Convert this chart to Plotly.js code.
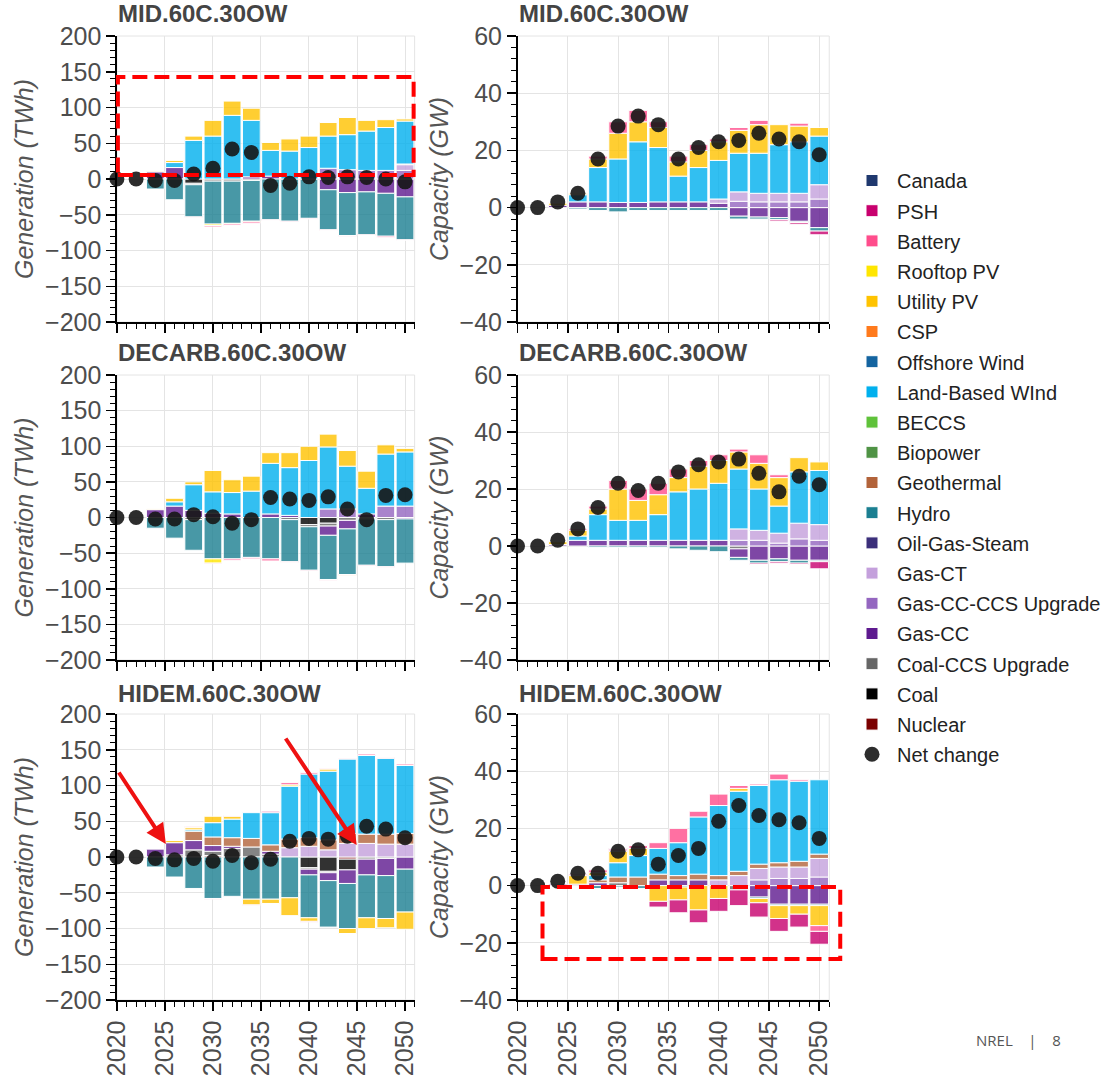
<!DOCTYPE html>
<html>
<head>
<meta charset="utf-8">
<script src="https://cdn.plot.ly/plotly-3.0.1.min.js"></script>
<style>
  html, body { margin: 0; padding: 0; background: #ffffff; }
  #chart { width: 1106px; height: 1080px; }
</style>
</head>
<body>
<div id="chart"></div>
<script>
// ---------------- categories ----------------
const barYears = [2024, 2026, 2028, 2030, 2032, 2034, 2036, 2038, 2040, 2042, 2044, 2046, 2048, 2050];
const dotYears = [2020, 2022, 2024, 2026, 2028, 2030, 2032, 2034, 2036, 2038, 2040, 2042, 2044, 2046, 2048, 2050];
const xTickVals = [2020, 2025, 2030, 2035, 2040, 2045, 2050];

// stacking order (first = closest to zero)
const techs = ['Nuclear', 'Coal', 'Coal-CCS Upgrade', 'Gas-CC', 'Gas-CC-CCS Upgrade', 'Gas-CT', 'Oil-Gas-Steam',
  'Hydro', 'Geothermal', 'Biopower', 'BECCS', 'Land-Based WInd', 'Offshore Wind', 'CSP',
  'Utility PV', 'Rooftop PV', 'Battery', 'PSH', 'Canada'];
const techColors = ['#7b0000', '#000000', '#666666', '#5e1a8f', '#9466c0', '#c4a0dc', '#3b2f7a',
  '#1b7f91', '#b2633a', '#4f9345', '#5fc23a', '#00b0ee', '#1464a0', '#ff7a1c',
  '#ffc300', '#ffe600', '#ff4d8c', '#c8006e', '#1f386e'];

const panelTitles = ['MID.60C.30OW', 'MID.60C.30OW', 'DECARB.60C.30OW', 'DECARB.60C.30OW', 'HIDEM.60C.30OW', 'HIDEM.60C.30OW'];
const genAxisTitle = 'Generation (TWh)';
const capAxisTitle = 'Capacity (GW)';
const netLabel = 'Net change';

// ---------------- MID generation (TWh) ----------------
const midGenCoal      = [0, 0, -6, 0, 0, 0, 0, 0, 0, 0, 0, 0, 0, 0];
const midGenCoalCCS   = [0, 0, -2, -3, -3, -2, 0, 0, 0, 0, 0, 0, 0, 0];
const midGenGasCC     = [10, 16, 0, 0, 0, 3, 4, 0, 0, -15, -19, -18, -20, -25];
const midGenGasCCS    = [0, 0, 0, 0, 0, 0, 0, 0, 0, 15, 13, 12, 12, 12];
const midGenGasCT     = [0, 0, 0, 0, 0, 0, 0, 0, 0, 0, 0, 0, 0, 8];
const midGenHydro     = [-14, -29, -45, -60, -59, -57, -57, -59, -55, -56, -60, -60, -60, -60];
const midGenGeo       = [0, 0, 0, 0, 0, 0, 0, 0, 0, 0, 0, 0, 0, 1];
const midGenWind      = [0, 7, 54, 60, 89, 79, 36, 39, 44, 45, 49, 55, 60, 60];
const midGenUPV       = [1, 3, 6, 22, 20, 17, 11, 17, 16, 19, 24, 15, 11, 3];
const midGenRPV       = [0, 0, 0, -2, -1, -1, 0, 0, 0, 0, 0, 0, 0, 0];
const midGenBattery   = [0, 0, -1, -2, -2, -2, -1, -1, -1, -1, -1, -1, -2, -1];
const midGenNet       = [0, 0, -2, -2, 7, 15, 42, 37, -9, -6, 3, 2, 3, 2, 0, -4];

// ---------------- MID capacity (GW) ----------------
const midCapGasCC     = [0.8, 2, 2, 1.8, 1.8, 2, 2, 2, 1.5, -3, -3.3, -3.5, -4.8, -7];
const midCapGasCCS    = [0, 0, 0, 0, 0, 0, 0, 0, 0, 2.2, 2, 2, 2, 3];
const midCapGasCT     = [0, 0, 0, 0, 0, 0, 0, 0, 1.5, 3.3, 3, 3, 3, 5];
const midCapHydro     = [0, -0.5, -1, -1.5, -1, -1, -1, -1, -1, -1, -0.7, -0.7, -0.4, -1.2];
const midCapWind      = [0, 2.5, 12, 15.2, 21.2, 19, 9, 12, 13.5, 13.5, 14, 17, 18, 17];
const midCapUPV       = [0.8, 0.5, 3, 9, 7, 7, 5, 6, 6.5, 8, 10, 7, 5.5, 3];
const midCapBattery   = [0.2, 0, 1, 4, 4, 2, 2, 2, 1, 1, 1.5, 0, 1, 0];
const midCapPSH       = [0, 0, 0, 0, 0, 0, 0, 0, 0, 0, 0, -0.5, -0.6, -1.3];
const midCapNet       = [0, 0, 2, 5, 17, 28.5, 32, 29, 17, 21, 23, 23.5, 26, 24, 23, 18.5];

// ---------------- DECARB generation (TWh) ----------------
const decGenCoal      = [0, 0, 0, 0, 0, 0, 0, 0, -10, -8, 0, 0, 0, 0];
const decGenCoalCCS   = [0, 0, -3, 0, 0, 0, 0, -3, -3, -4, -4, -2, -3, 0];
const decGenGasCC     = [11, 16, 10, 6, 5, 0, 5, 3, 0, -13, -12, 5, 0, -2];
const decGenGasCCS    = [0, 0, 0, 0, 0, 0, 0, 0, 0, 12, 12, 0, 16, 16];
const decGenHydro     = [-15, -29, -43, -58, -58, -56, -58, -59, -61, -62, -64, -65, -66, -62];
const decGenWind      = [0, 6, 36, 30, 30, 37, 71, 67, 80, 87, 60, 36, 73, 76];
const decGenCSP       = [0, 0, 0, 0, 0, 0, 0, 0, 0, 0, -1, 0, 0, 0];
const decGenUPV       = [1, 5, 4, 30, 18, 21, 15, 21, 20, 18, 22, 24, 13, 5];
const decGenRPV       = [0, 0, 0, -6, 0, 0, 0, 0, 0, 0, 0, 0, 0, 0];
const decGenBattery   = [0, 0, 0, -1, -2, -2, -3, -1, -1, -1, 0, -1, -1, 0];
const decGenNet       = [0, 0, -2, -2, 4, 1, -8, -3, 28, 26, 24, 29, 12, -3, 31, 32];

// ---------------- DECARB capacity (GW) ----------------
const decCapCoalCCS   = [0, 0, 0, 0, 0, 0, 0, 0, 0, -1, 0, 0, 0, 0];
const decCapGasCC     = [0.5, 2, 2, 2, 2, 2, 2, 2, 2, -3, -5, -4.5, -5, -5];
const decCapGasCCS    = [0, 0, 0, 0, 0, 0, 0, 0, 0, 2, 2, 1, 2.5, 2];
const decCapGasCT     = [0, 0, 0, 0, 0, 0, 0, 0, 0, 4, 3.5, 3.5, 5.5, 5.5];
const decCapHydro     = [0, 0, -0.5, -0.5, -0.5, -0.5, -1, -1.5, -2, -1, -1, -1, -1, -0.5];
const decCapWind      = [0, 1.5, 9, 7, 7, 9, 17, 18, 20, 21, 14.5, 9.5, 18, 19];
const decCapUPV       = [1, 2, 2, 11, 7, 7, 5, 8, 8, 6, 9, 10, 5, 3];
const decCapBattery   = [0, 0.5, 1, 3, 4, 4, 3, 2, 2, 1, 3, 1, 0, 0];
const decCapPSH       = [0, 0, 0, 0, 0, 0, 0, 0, 0, 0, -0.5, -0.5, -0.5, -2.5];
const decCapNet       = [0, 0, 2, 6, 13.5, 22, 19.5, 22, 26, 28.5, 29.5, 30.5, 25.5, 19, 24.5, 21.5];

// ---------------- HIDEM generation (TWh) ----------------
const hiGenNuclear    = [0, 0, 0, 2, 0, 0, 0, 0, 0, 0, -3, 0, 0, 0];
const hiGenCoal       = [0, 0, 0, 0, 0, 0, 0, 0, -15, -20, -15, 0, 0, 0];
const hiGenCoalCCS    = [0, 3, 10, 6, 12, 14, 4, 0, -2, -2, 0, -3, -2, 0];
const hiGenGasCC      = [11, 17, 13, 8, 3, 0, 4, 0, -8, -11, -19, -22, -24, -17];
const hiGenGasCT      = [0, 0, 0, 0, 0, 0, 0, 13, 15, 10, 19, 19, 18, 18];
const hiGenHydro      = [-14, -28, -44, -58, -55, -59, -59, -57, -60, -65, -63, -60, -60, -60];
const hiGenGeo        = [0, 0, 13, 12, 12, 12, 9, 12, 12, 14, 14, 13, 14, 15];
const hiGenWind       = [0, 0, 2, 20, 26, 36, 45, 74, 89, 96, 104, 110, 106, 95];
const hiGenUPV        = [0, 3, 3, 9, 4, -8, -6, -25, -5, 3, -7, -15, -13, -24];
const hiGenRPV        = [0, 0, 1, 0, 0, 0, 0, 2, 0, 0, 0, 0, 0, 0];
const hiGenBattery    = [0, 0, 1, -1, 1, -1, 0, 3, 2, 1, 1, 2, 1, 2];
const hiGenPSH        = [0, 0, 0, 0, 0, 0, 2, 0, -1, 0, 0, 0, 0, 0];
const hiGenNet        = [0, 0, -2, -4, -2, -6, 2, -8, -3, 22, 26, 25, 29, 43, 39, 27];

// ---------------- HIDEM capacity (GW) ----------------
const hiCapCoalCCS    = [0, 0, 0, 1, 0, 0, 0, 0, 0, -1.5, 0, 0, 0, 0];
const hiCapGasCC      = [0.5, 0.5, 1, 0, 0, 2, 2, 2, 0, 0, -4, -6.5, -6.5, -6.5];
const hiCapGasCCS     = [0, 0, 0, 0, 0, 0, 0, 0, 0, 0, 2, 2.5, 2.5, 3];
const hiCapGasCT      = [0, 0, 0, 0, 0, 0, 0, 0, 2, 3.5, 4, 4, 4, 6.5];
const hiCapHydro      = [0, 0, -1, -0.5, -1, 0, -0.5, 0, 0, 0, -0.5, -0.5, -0.5, -0.5];
const hiCapGeo        = [0, 0, 1, 2, 3, 2, 1.5, 2, 1.5, 1.5, 1.5, 1.5, 2, 1.5];
const hiCapWind       = [0, 0, 1.5, 5, 7.5, 9, 11.5, 20, 24.5, 28, 27.5, 29, 28, 26];
const hiCapUPV        = [0, 3, 1, 4, 2.5, -5.5, -4.5, -8.5, -4.5, 1, -1.5, -4.5, -3, -7];
const hiCapBattery    = [0, 0.5, 1, 0.5, 1, 2, 5, 2, 4, 1, 0.5, 2, 0.5, -2];
const hiCapPSH        = [0, 0, 0, 0.5, 0, -2, -4.5, -4.5, -4.5, -5.5, -5, -4.5, -4.5, -4.5];
const hiCapNet        = [0, 0, 1.5, 4.3, 4.3, 12, 12.5, 7.5, 10.5, 13, 22.5, 28, 24.5, 23, 22, 16.5];

// ---------------- panel tables (built from the arrays above) ----------------
const panels = [
  { series: { 'Coal': midGenCoal, 'Coal-CCS Upgrade': midGenCoalCCS, 'Gas-CC': midGenGasCC, 'Gas-CC-CCS Upgrade': midGenGasCCS,
      'Gas-CT': midGenGasCT, 'Hydro': midGenHydro, 'Geothermal': midGenGeo, 'Land-Based WInd': midGenWind,
      'Utility PV': midGenUPV, 'Rooftop PV': midGenRPV, 'Battery': midGenBattery }, net: midGenNet },
  { series: { 'Gas-CC': midCapGasCC, 'Gas-CC-CCS Upgrade': midCapGasCCS, 'Gas-CT': midCapGasCT, 'Hydro': midCapHydro,
      'Land-Based WInd': midCapWind, 'Utility PV': midCapUPV, 'Battery': midCapBattery, 'PSH': midCapPSH }, net: midCapNet },
  { series: { 'Coal': decGenCoal, 'Coal-CCS Upgrade': decGenCoalCCS, 'Gas-CC': decGenGasCC, 'Gas-CC-CCS Upgrade': decGenGasCCS,
      'Hydro': decGenHydro, 'Land-Based WInd': decGenWind, 'CSP': decGenCSP, 'Utility PV': decGenUPV,
      'Rooftop PV': decGenRPV, 'Battery': decGenBattery }, net: decGenNet },
  { series: { 'Coal-CCS Upgrade': decCapCoalCCS, 'Gas-CC': decCapGasCC, 'Gas-CC-CCS Upgrade': decCapGasCCS, 'Gas-CT': decCapGasCT,
      'Hydro': decCapHydro, 'Land-Based WInd': decCapWind, 'Utility PV': decCapUPV, 'Battery': decCapBattery,
      'PSH': decCapPSH }, net: decCapNet },
  { series: { 'Nuclear': hiGenNuclear, 'Coal': hiGenCoal, 'Coal-CCS Upgrade': hiGenCoalCCS, 'Gas-CC': hiGenGasCC,
      'Gas-CT': hiGenGasCT, 'Hydro': hiGenHydro, 'Geothermal': hiGenGeo, 'Land-Based WInd': hiGenWind,
      'Utility PV': hiGenUPV, 'Rooftop PV': hiGenRPV, 'Battery': hiGenBattery, 'PSH': hiGenPSH }, net: hiGenNet },
  { series: { 'Coal-CCS Upgrade': hiCapCoalCCS, 'Gas-CC': hiCapGasCC, 'Gas-CC-CCS Upgrade': hiCapGasCCS, 'Gas-CT': hiCapGasCT,
      'Hydro': hiCapHydro, 'Geothermal': hiCapGeo, 'Land-Based WInd': hiCapWind, 'Utility PV': hiCapUPV,
      'Battery': hiCapBattery, 'PSH': hiCapPSH }, net: hiCapNet }
];

// ---------------- layout geometry ----------------
const W = 1106, H = 1080;
const FONT = 'Liberation Sans, Arial, sans-serif';
const colX = [[117, 415], [518, 830]];
const rowY = [[36, 322], [375, 660], [714, 1000]];
const px = v => v / W;
const py = v => 1 - v / H;

const data = [];
panels.forEach((p, i) => {
  const ax = i === 0 ? '' : String(i + 1);
  techs.forEach((t, k) => {
    const vals = p.series[t] || barYears.map(() => 0);
    data.push({
      type: 'bar', name: t, x: barYears, y: vals.map(v => (v === 0 ? null : v)),
      xaxis: 'x' + ax, yaxis: 'y' + ax, width: 1.85,
      marker: { color: techColors[k], opacity: 0.8, line: { color: '#ffffff', width: 1 } },
      legendgroup: t, legendrank: techs.length - k, showlegend: i === 0, hoverinfo: 'x+y+name'
    });
  });
  data.push({
    type: 'scatter', mode: 'markers', name: netLabel, x: dotYears, y: p.net,
    xaxis: 'x' + ax, yaxis: 'y' + ax, cliponaxis: false,
    marker: { color: 'rgba(22,22,22,0.9)', size: 15 },
    legendgroup: 'net', legendrank: 100, showlegend: i === 0
  });
});

const layout = {
  width: W, height: H, margin: { l: 0, r: 0, t: 0, b: 0 },
  paper_bgcolor: '#ffffff', plot_bgcolor: '#ffffff',
  barmode: 'relative', bargap: 0,
  font: { family: FONT, color: '#444444' },
  showlegend: true,
  legend: {
    x: px(848), y: py(161), xanchor: 'left', yanchor: 'top',
    traceorder: 'grouped', tracegroupgap: 1.2,
    font: { family: FONT, size: 20, color: '#222222' },
    itemwidth: 40, bgcolor: 'rgba(0,0,0,0)'
  },
  annotations: [], shapes: []
};

for (let i = 0; i < 6; i++) {
  const col = i % 2, row = Math.floor(i / 2);
  const ax = i === 0 ? '' : String(i + 1);
  const isGen = col === 0;
  layout['xaxis' + ax] = {
    domain: [px(colX[col][0]), px(colX[col][1])], anchor: 'y' + ax,
    range: [2020, 2051], tickvals: xTickVals, ticktext: xTickVals.map(String),
    showticklabels: row === 2, tickangle: -90,
    tickfont: { family: FONT, size: 25, color: '#4d4d4d' },
    ticks: 'outside', ticklen: 9, tickwidth: 1.5, tickcolor: '#000000',
    minor: { dtick: 1, tick0: 2020, ticks: 'outside', ticklen: 5, tickwidth: 1, tickcolor: '#000000', showgrid: false },
    showline: true, linecolor: '#000000', linewidth: 1.5,
    showgrid: true, gridcolor: '#e4e4e4', gridwidth: 1, zeroline: false, fixedrange: true
  };
  layout['yaxis' + ax] = {
    domain: [py(rowY[row][1]), py(rowY[row][0])], anchor: 'x' + ax,
    range: isGen ? [-200, 200] : [-40, 60], dtick: isGen ? 50 : 20, tick0: 0,
    tickfont: { family: FONT, size: 25, color: '#4d4d4d' },
    ticks: 'outside', ticklen: 9, tickwidth: 1.5, tickcolor: '#000000',
    minor: { dtick: isGen ? 10 : 4, ticks: 'outside', ticklen: 5, tickwidth: 1, tickcolor: '#000000', showgrid: false },
    showline: true, linecolor: '#000000', linewidth: 1.5,
    showgrid: true, gridcolor: '#e4e4e4', gridwidth: 1, zeroline: false, fixedrange: true,
    title: { text: isGen ? genAxisTitle : capAxisTitle, standoff: 4,
      font: { family: FONT, size: 25, color: '#555555', style: 'italic' } }
  };
  // light border at top/right of each plot area
  layout.shapes.push({ type: 'rect', xref: 'x' + ax + ' domain', yref: 'y' + ax + ' domain',
    x0: 0, x1: 1, y0: 0, y1: 1, line: { color: '#e4e4e4', width: 1 }, layer: 'below' });
  layout.annotations.push({
    text: '<b>' + panelTitles[i] + '</b>', xref: 'paper', yref: 'paper',
    x: px(colX[col][0] - 1), y: py([13, 352, 693][row]), xanchor: 'left', yanchor: 'middle',
    showarrow: false, font: { family: FONT, size: 24, color: '#444444' }
  });
}

// red dashed highlight boxes
layout.shapes.push({ type: 'rect', xref: 'paper', yref: 'paper', x0: px(118), x1: px(414), y0: py(175), y1: py(77),
  line: { color: '#ff0000', width: 4, dash: '15px,7px' } });
layout.shapes.push({ type: 'rect', xref: 'paper', yref: 'paper', x0: px(543), x1: px(841), y0: py(959), y1: py(887),
  line: { color: '#ff0000', width: 4, dash: '15px,7px' } });

// red arrows
layout.annotations.push({ text: '', xref: 'paper', yref: 'paper', x: px(166), y: py(844), ax: -48, ay: -73,
  showarrow: true, arrowcolor: '#ee1111', arrowwidth: 4, arrowhead: 2, arrowsize: 1 });
layout.annotations.push({ text: '', xref: 'paper', yref: 'paper', x: px(357), y: py(845), ax: -72, ay: -108,
  showarrow: true, arrowcolor: '#ee1111', arrowwidth: 4, arrowhead: 2, arrowsize: 1 });

// footer
layout.annotations.push({ text: 'NREL&nbsp;&nbsp;&nbsp;&nbsp;|&nbsp;&nbsp;&nbsp;&nbsp;8', xref: 'paper', yref: 'paper',
  x: px(1019), y: py(1040), xanchor: 'center', yanchor: 'middle', showarrow: false,
  font: { family: 'Open Sans, ' + FONT, size: 15, color: '#555555' } });

Plotly.newPlot('chart', data, layout, { displayModeBar: false, staticPlot: true });
</script>
</body>
</html>
